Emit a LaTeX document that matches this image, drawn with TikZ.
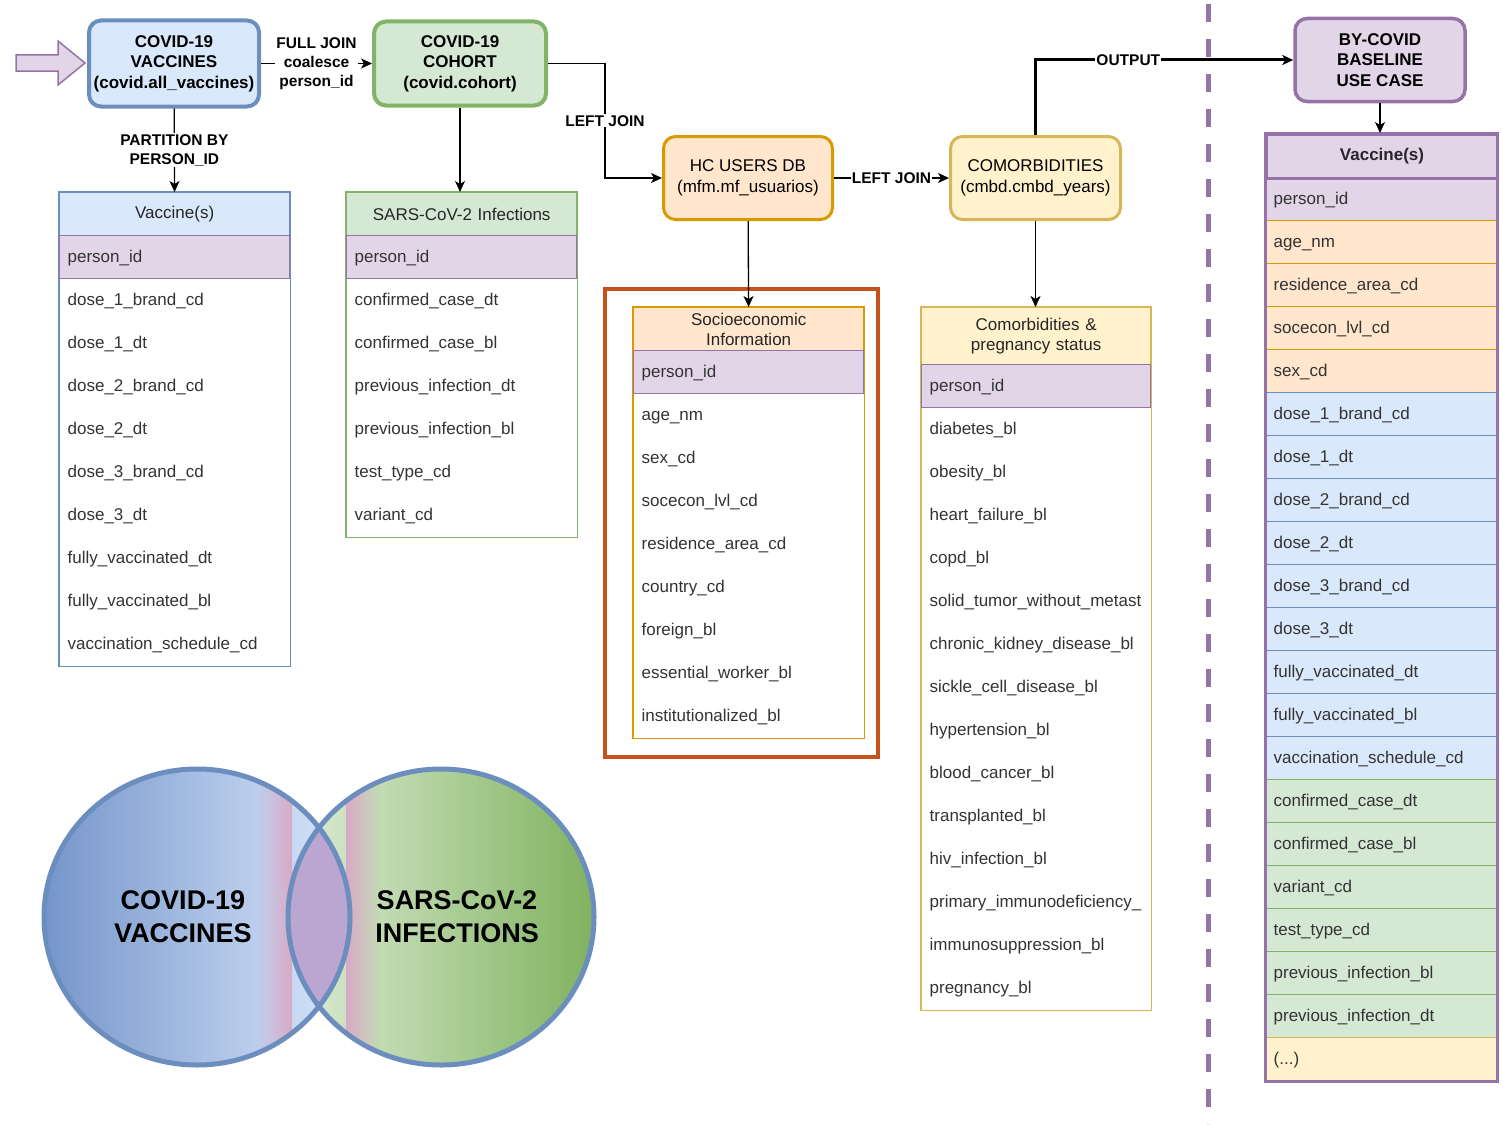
\documentclass[tikz,border=0pt]{standalone}
\usepackage{fontspec}
\setmainfont{Liberation Sans}
\usepackage{tikz}
\usetikzlibrary{
  positioning,
  arrows.meta,
  fadings
}
\definecolor{bluefill}{HTML}{DAE8FC}
\definecolor{blueline}{HTML}{6C8EBF}
\definecolor{greenfill}{HTML}{D5E8D4}
\definecolor{greenline}{HTML}{82B366}
\definecolor{orangefill}{HTML}{FFE6CC}
\definecolor{orangeline}{HTML}{D79B00}
\definecolor{yellowfill}{HTML}{FFF2CC}
\definecolor{yellowline}{HTML}{D6B656}
\definecolor{purplefill}{HTML}{E1D5E7}
\definecolor{purpleline}{HTML}{9673A6}
\definecolor{rustframe}{HTML}{C5521B}
\definecolor{fieldtext}{HTML}{333333}
\definecolor{vennblue}{HTML}{7595CA}
\definecolor{vennlight}{HTML}{DAE7FB}
\definecolor{vennpale}{HTML}{DEEDD7}
\definecolor{venngreen}{HTML}{80B25F}
\definecolor{vennlens}{HTML}{BAA6D1}
\definecolor{vennpink}{HTML}{D8A9C6}
\tikzfading[name=fadein, left color=transparent!100, right color=transparent!0]
\tikzfading[name=fadeout, left color=transparent!0, right color=transparent!100]
\newcommand{\boxfont}{\fontsize{17}{20.5}\selectfont}
\newcommand{\fieldfont}{\fontsize{17}{20}\selectfont}
\tikzset{dbbox/.style={
  draw, rounded corners=12pt,
  align=center,
  font=\boxfont
}}
\tikzset{fieldrow/.style={
  rectangle, anchor=north west,
  minimum height=43pt, text width=214pt,
  text height=13pt, text depth=3pt,
  inner xsep=8pt, inner ysep=0pt,
  align=left, font=\fieldfont, text=fieldtext,
  line width=1.3pt
}}
\tikzset{tablehead/.style={
  fieldrow, align=center, text=black!85,
  text height=, text depth=
}}
\tikzset{joinlabel/.style={
  fill=white, align=center, inner sep=1pt,
  font=\fontsize{15.5}{19}\selectfont\bfseries
}}
\tikzset{joinarrow/.style={
  -{Stealth[length=11pt,width=10pt,inset=3pt]},
  line width=1.3pt
}}
\tikzset{venntext/.style={
  align=center,
  font=\fontsize{27}{33}\selectfont\bfseries
}}

\begin{document}
\begin{tikzpicture}[x=1pt,y=-1pt]
\useasboundingbox (0,0) rectangle (1503,1124);

% division line
\draw[purpleline, line width=5pt, dash pattern=on 18pt off 17pt] (1208,4) -- (1208,1124);

% input arrow
\draw[purpleline, fill=purplefill, line width=1.5pt]
  (16,55) -- (58,55) -- (58,41) -- (85,63) -- (58,85) -- (58,71) -- (16,71) -- cycle;

% sources
\node[dbbox, draw=blueline, fill=bluefill, line width=4pt,
  minimum width=170pt, minimum height=86pt, font=\boxfont\bfseries]
  (vacc) at (174,63.5) {COVID-19\\VACCINES\\(covid.all\_vaccines)};
\node[dbbox, draw=greenline, fill=greenfill, line width=4pt,
  minimum width=172pt, minimum height=84pt, font=\boxfont\bfseries]
  (cohort) at (460,63.5) {COVID-19\\COHORT\\(covid.cohort)};
\node[dbbox, draw=orangeline, fill=orangefill, line width=3pt,
  minimum width=169pt, minimum height=83pt]
  (hc) at (748,178) {HC USERS DB\\(mfm.mf\_usuarios)};
\node[dbbox, draw=yellowline, fill=yellowfill, line width=3pt,
  minimum width=170pt, minimum height=83pt]
  (comorb) at (1035.5,178) {COMORBIDITIES\\(cmbd.cmbd\_years)};
\node[dbbox, draw=purpleline, fill=purplefill, line width=3.5pt,
  minimum width=170pt, minimum height=83pt, font=\boxfont\bfseries]
  (bycovid) at (1380,60) {BY-COVID\\BASELINE\\USE CASE};

% vaccines table
\foreach \f [count=\i] in {dose\_1\_brand\_cd, dose\_1\_dt, dose\_2\_brand\_cd, dose\_2\_dt,
  dose\_3\_brand\_cd, dose\_3\_dt, fully\_vaccinated\_dt, fully\_vaccinated\_bl,
  vaccination\_schedule\_cd}
  \node[fieldrow] (v\i) at (59,{235+43*\i}) {\f};
\draw[blueline, line width=1.3pt] (59,192) rectangle (v9.south east);
\node[tablehead, draw=blueline, fill=bluefill] (vh) at (59,192) {Vaccine(s)};
\node[fieldrow, draw=purpleline, fill=purplefill] (vpid) at (59,235) {person\_id};

% infections table
\foreach \f [count=\i] in {confirmed\_case\_dt, confirmed\_case\_bl, previous\_infection\_dt,
  previous\_infection\_bl, test\_type\_cd, variant\_cd}
  \node[fieldrow] (n\i) at (346,{235+43*\i}) {\f};
\draw[greenline, line width=1.3pt] (346,192) rectangle (n6.south east);
\node[tablehead, draw=greenline, fill=greenfill] (nh) at (346,192) {SARS-CoV-2 Infections};
\node[fieldrow, draw=purpleline, fill=purplefill] (npid) at (346,235) {person\_id};

% socioeconomic table
\draw[rustframe, line width=4.5pt] (605,289) rectangle (878,757);
\foreach \f [count=\i] in {age\_nm, sex\_cd, socecon\_lvl\_cd, residence\_area\_cd,
  country\_cd, foreign\_bl, essential\_worker\_bl, institutionalized\_bl}
  \node[fieldrow] (s\i) at (633,{350+43*\i}) {\f};
\draw[orangeline, line width=1.3pt] (633,307) rectangle (s8.south east);
\node[tablehead, draw=orangeline, fill=orangefill] (sh) at (633,307) {Socioeconomic\\Information};
\node[fieldrow, draw=purpleline, fill=purplefill] (spid) at (633,350) {person\_id};

% comorbidities table
\begin{scope}
  \clip (921,407) rectangle (1148,1011);
  \foreach \f [count=\i] in {diabetes\_bl, obesity\_bl, heart\_failure\_bl, copd\_bl,
    solid\_tumor\_without\_metast, chronic\_kidney\_disease\_bl, sickle\_cell\_disease\_bl,
    hypertension\_bl, blood\_cancer\_bl, transplanted\_bl, hiv\_infection\_bl,
    primary\_immunodeficiency\_, immunosuppression\_bl, pregnancy\_bl}
    \node[fieldrow, text width=213pt] (c\i) at (921,{364+43*\i}) {\f};
\end{scope}
\draw[yellowline, line width=1.3pt] (921,307) rectangle (c14.south east);
\node[tablehead, draw=yellowline, fill=yellowfill, text width=213pt, minimum height=57pt]
  (ch) at (921,307) {Comorbidities \&\\pregnancy status};
\node[fieldrow, draw=purpleline, fill=purplefill, text width=213pt] (cpid) at (921,364) {person\_id};

% baseline table
\node[fieldrow, draw=purpleline, fill=purplefill, text width=215pt] (bpid) at (1265,177) {person\_id};
\foreach \f [count=\i] in {age\_nm, residence\_area\_cd, socecon\_lvl\_cd, sex\_cd}
  \node[fieldrow, draw=orangeline, fill=orangefill, text width=215pt] (bo\i) at (1265,{177+43*\i}) {\f};
\foreach \f [count=\i] in {dose\_1\_brand\_cd, dose\_1\_dt, dose\_2\_brand\_cd, dose\_2\_dt,
  dose\_3\_brand\_cd, dose\_3\_dt, fully\_vaccinated\_dt, fully\_vaccinated\_bl,
  vaccination\_schedule\_cd}
  \node[fieldrow, draw=blueline, fill=bluefill, text width=215pt] (bv\i) at (1265,{349+43*\i}) {\f};
\foreach \f [count=\i] in {confirmed\_case\_dt, confirmed\_case\_bl, variant\_cd, test\_type\_cd,
  previous\_infection\_bl, previous\_infection\_dt}
  \node[fieldrow, draw=greenline, fill=greenfill, text width=215pt] (bi\i) at (1265,{736+43*\i}) {\f};
\node[fieldrow, draw=yellowline, fill=yellowfill, text width=215pt] (bmore) at (1265,1037) {(...)};
\node[tablehead, draw=purpleline, fill=purplefill, line width=3pt, text width=215pt,
  minimum height=44pt, font=\fieldfont\bfseries] (bh) at (1265,133) {Vaccine(s)};
\draw[purpleline, line width=3pt] (bh.north west) rectangle (bmore.south east);

% connectors
\draw[joinarrow] (vacc) -- node[joinlabel] {FULL JOIN\\coalesce\\person\_id} (cohort);
\draw[joinarrow] (vacc) -- node[joinlabel] {PARTITION BY\\PERSON\_ID} (vh);
\draw[joinarrow] (cohort.south) -- (cohort.south |- nh.north);
\draw[joinarrow] (cohort.east) -- ++(57,0) |- node[joinlabel, pos=0.25] {LEFT JOIN} (hc.west);
\draw[joinarrow] (hc) -- node[joinlabel] {LEFT JOIN} (comorb);
\draw[joinarrow] (hc) -- (sh);
\draw[joinarrow] (comorb.south) -- (comorb.south |- ch.north);
\draw[joinarrow, line width=3pt] (comorb.north) |- node[joinlabel, pos=0.68] {OUTPUT} (bycovid.west);
\draw[joinarrow] (bycovid.south) -- (bycovid.south |- bh.north);

% venn
\shade[left color=vennblue, right color=vennlight] (197,917) ellipse [x radius=153, y radius=148];
\shade[left color=vennpale, right color=venngreen] (441,917) ellipse [x radius=153, y radius=148];
\begin{scope}
  \clip (441,917) ellipse [x radius=153, y radius=148];
  \fill[vennpink, path fading=fadeout] (346,760) rectangle (380,1075);
\end{scope}
\begin{scope}
  \clip (197,917) ellipse [x radius=153, y radius=148];
  \fill[vennpink, path fading=fadein] (258,760) rectangle (292,1075);
  \fill[vennlens] (441,917) ellipse [x radius=153, y radius=148];
\end{scope}
\draw[blueline, line width=5pt] (197,917) ellipse [x radius=153, y radius=148];
\draw[blueline, line width=5pt] (441,917) ellipse [x radius=153, y radius=148];
\node[venntext] (vvac) at (183,917) {COVID-19\\VACCINES};
\node[venntext] (vinf) at (457,917) {SARS-CoV-2\\INFECTIONS};
\end{tikzpicture}
\end{document}
